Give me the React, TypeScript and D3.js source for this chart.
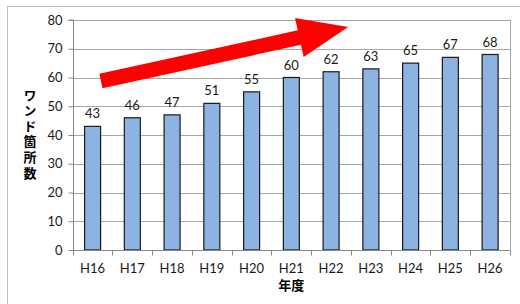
import React, { useEffect, useRef } from "react";
import * as d3 from "d3";

// 年度ごとのワンド箇所数
const years = ["H16", "H17", "H18", "H19", "H20", "H21", "H22", "H23", "H24", "H25", "H26"];
const counts = [43, 46, 47, 51, 55, 60, 62, 63, 65, 67, 68];
const yTicks = [0, 10, 20, 30, 40, 50, 60, 70, 80];
const yTitle = "ワンド箇所数";
const xTitle = "年度";

// trend arrow, in chart units: [band position, value]
const arrowTail: [number, number] = [0.71, 58.8];
const arrowTip: [number, number] = [6.93, 77.6];

const App = () => {
  const chartRef = useRef<SVGSVGElement>(null);

  useEffect(() => {
    const width = 520;
    const height = 304;
    const margin = { top: 20, right: 10, bottom: 54, left: 72.7 };
    const font = "Lato, 'Liberation Sans', sans-serif";
    const jpFont = "'Noto Sans CJK JP', sans-serif";

    const svg = d3.select(chartRef.current);
    svg.selectAll("*").remove();

    // outer frame
    svg
      .append("rect")
      .attr("x", 7.5)
      .attr("y", 6.5)
      .attr("width", width)
      .attr("height", height)
      .attr("fill", "#fff")
      .attr("stroke", "#bfbfbf");

    const x = d3
      .scaleBand()
      .domain(years)
      .range([margin.left, width - margin.right]);

    const y = d3
      .scaleLinear()
      .domain([0, 80])
      .range([height - margin.bottom, margin.top]);

    const bandX = d3
      .scaleLinear()
      .domain([0, years.length])
      .range([margin.left, width - margin.right]);

    // grid lines
    svg
      .append("g")
      .selectAll("line")
      .data(yTicks.filter((t) => t > 0))
      .enter()
      .append("line")
      .attr("x1", margin.left)
      .attr("x2", width - margin.right)
      .attr("y1", (d) => Math.round(y(d)) + 0.5)
      .attr("y2", (d) => Math.round(y(d)) + 0.5)
      .attr("stroke", "#a6a6a6")
      .attr("stroke-width", 1);

    // right border of plot area
    svg
      .append("line")
      .attr("x1", width - margin.right + 0.5)
      .attr("x2", width - margin.right + 0.5)
      .attr("y1", y(80))
      .attr("y2", y(0))
      .attr("stroke", "#a6a6a6");

    // bars
    const barW = 16;
    svg
      .append("g")
      .selectAll("rect")
      .data(counts)
      .enter()
      .append("rect")
      .attr("x", (d, i) => x(years[i])! + x.bandwidth() / 2 - barW / 2)
      .attr("y", (d) => y(d))
      .attr("width", barW)
      .attr("height", (d) => y(0) - y(d))
      .attr("fill", "#8db3e2")
      .attr("stroke", "#1a1a1a")
      .attr("stroke-width", 1.2);

    // value labels
    svg
      .append("g")
      .selectAll("text")
      .data(counts)
      .enter()
      .append("text")
      .attr("x", (d, i) => x(years[i])! + x.bandwidth() / 2)
      .attr("y", (d) => y(d) - 8)
      .attr("text-anchor", "middle")
      .attr("font-family", font)
      .attr("font-size", 13)
      .attr("fill", "#1a1a1a")
      .text((d) => d);

    // y axis
    const yAxis = svg
      .append("g")
      .attr("transform", `translate(${Math.round(margin.left) + 0.5}, 0)`)
      .call(d3.axisLeft(y).tickValues(yTicks).tickSize(5).tickPadding(6));
    yAxis.select(".domain").attr("stroke", "#868686").attr("d", `M-5,${y(80)}H0V${y(0)}`);
    yAxis.selectAll(".tick line").attr("stroke", "#868686");
    yAxis
      .selectAll("text")
      .attr("font-family", font)
      .attr("font-size", 13)
      .attr("fill", "#1a1a1a");

    // x axis
    const xAxis = svg
      .append("g")
      .attr("transform", `translate(0, ${Math.round(y(0)) + 0.5})`)
      .call(d3.axisBottom(x).tickSize(0).tickPadding(13));
    xAxis.select(".domain").attr("stroke", "#868686").attr("d", `M${margin.left},0H${width - margin.right}`);
    xAxis
      .selectAll("text")
      .attr("font-family", font)
      .attr("font-size", 13)
      .attr("fill", "#1a1a1a");
    xAxis
      .append("g")
      .selectAll("line")
      .data(d3.range(years.length + 1))
      .enter()
      .append("line")
      .attr("x1", (d) => Math.round(bandX(d)) + 0.5)
      .attr("x2", (d) => Math.round(bandX(d)) + 0.5)
      .attr("y1", 0)
      .attr("y2", 5)
      .attr("stroke", "#868686");

    // axis titles
    svg
      .append("text")
      .attr("x", (margin.left + width - margin.right) / 2)
      .attr("y", 290)
      .attr("text-anchor", "middle")
      .attr("font-family", jpFont)
      .attr("font-weight", "bold")
      .attr("font-size", 13)
      .attr("fill", "#000")
      .text(xTitle);

    svg
      .append("text")
      .attr("x", 30)
      .attr("y", 135)
      .attr("text-anchor", "middle")
      .attr("font-family", jpFont)
      .attr("font-weight", "bold")
      .attr("font-size", 13)
      .attr("fill", "#000")
      .style("writing-mode", "vertical-rl")
      .style("text-orientation", "upright")
      .style("letter-spacing", "2.6px")
      .text(yTitle);

    // trend arrow
    const [tx, ty] = [bandX(arrowTail[0]), y(arrowTail[1])];
    const [hx, hy] = [bandX(arrowTip[0]), y(arrowTip[1])];
    const len = Math.hypot(hx - tx, hy - ty);
    const ux = (hx - tx) / len;
    const uy = (hy - ty) / len;
    const nx = -uy;
    const ny = ux;
    const shaftHalf = 7.4;
    const headHalf = 20;
    const headLen = 50;
    const bx = hx - ux * headLen;
    const by = hy - uy * headLen;
    const pts: [number, number][] = [
      [tx + nx * shaftHalf, ty + ny * shaftHalf],
      [bx + nx * shaftHalf, by + ny * shaftHalf],
      [bx + nx * headHalf, by + ny * headHalf],
      [hx, hy],
      [bx - nx * headHalf, by - ny * headHalf],
      [bx - nx * shaftHalf, by - ny * shaftHalf],
      [tx - nx * shaftHalf, ty - ny * shaftHalf],
    ];
    svg
      .append("path")
      .attr("d", d3.line()(pts) + "Z")
      .attr("fill", "#ff0000");
  }, []);

  return (
    <svg
      ref={chartRef}
      width={520}
      height={304}
      style={{ position: "absolute", left: 0, top: 0, background: "#fff" }}
    />
  );
};

export default App;
